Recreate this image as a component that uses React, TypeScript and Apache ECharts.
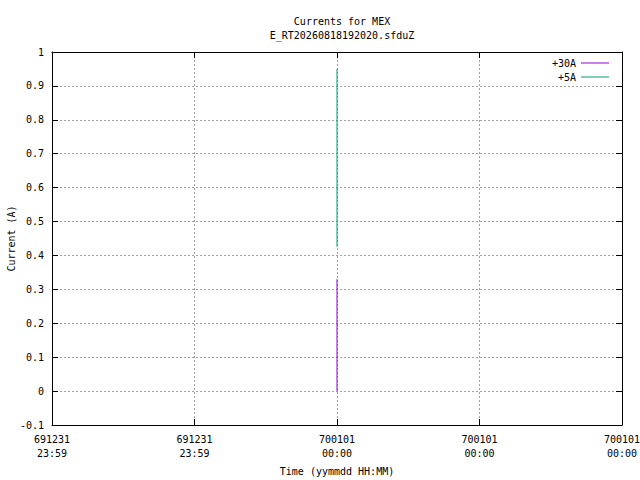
import { useEffect, useRef } from 'react';
import * as echarts from 'echarts';

// chart values
const seriesNames = ['+30A', '+5A'];
const seriesColors = ['#9400d3', '#009e73'];
// both currents sit on the same instant (x = 0, i.e. 700101 00:00)
const current30A: [number, number][] = [[0, 0], [0, 0.33]];
const current5A: [number, number][] = [[0, 0.426], [0, 0.95]];
const xTickLabels = ['691231\n23:59', '691231\n23:59', '700101\n00:00', '700101\n00:00', '700101\n00:00'];
const titleText = 'Currents for MEX\nE_RT20260818192020.sfduZ';

const FONT = 'DejaVu Sans Mono';

export default function App() {
  const chartRef = useRef<HTMLDivElement>(null);

  useEffect(() => {
    if (!chartRef.current) return;
    const chart = echarts.init(chartRef.current, null, { renderer: 'svg' });

    const gridLine = { show: true, lineStyle: { color: '#a0a0a0', type: [2, 2] as number[], width: 1 } };
    const axisLine = { show: true, onZero: false, lineStyle: { color: '#000', width: 1 } };
    const tick = { show: true, inside: true, length: 6, lineStyle: { color: '#000' } };

    chart.setOption({
      animation: false,
      backgroundColor: '#fff',
      textStyle: { fontFamily: FONT },
      title: {
        text: titleText,
        left: 337,
        textAlign: 'center',
        top: 9,
        textStyle: { fontFamily: FONT, fontSize: 10, fontWeight: 'normal', color: '#000', lineHeight: 14 }
      },
      legend: {
        orient: 'vertical',
        right: 26,
        top: 52,
        align: 'right',
        itemGap: 2,
        itemWidth: 28,
        itemHeight: 1,
        icon: 'rect',
        data: seriesNames,
        textStyle: { fontFamily: FONT, fontSize: 10, color: '#000', lineHeight: 12 }
      },
      grid: { left: 52, right: 18, top: 52, bottom: 55, containLabel: false, outerBoundsMode: 'none' },
      xAxis: [
        {
          type: 'value',
          min: -2,
          max: 2,
          interval: 1,
          name: 'Time (yymmdd HH:MM)',
          nameLocation: 'middle',
          nameGap: 41,
          nameMoveOverlap: false,
          nameTextStyle: { fontFamily: FONT, fontSize: 10, color: '#000' },
          axisLine,
          axisTick: tick,
          splitLine: gridLine,
          axisLabel: {
            margin: 7,
            fontFamily: FONT,
            fontSize: 10,
            color: '#000',
            lineHeight: 14,
            formatter: (v: number) => xTickLabels[Math.round(v) + 2] ?? ''
          }
        },
        {
          type: 'value',
          position: 'top',
          min: -2,
          max: 2,
          interval: 1,
          axisLine,
          axisTick: tick,
          axisLabel: { show: false },
          splitLine: { show: false }
        }
      ],
      yAxis: [
        {
          type: 'value',
          min: -0.1,
          max: 1,
          interval: 0.1,
          name: 'Current (A)',
          nameLocation: 'middle',
          nameGap: 36,
          nameMoveOverlap: false,
          nameRotate: 90,
          nameTextStyle: { fontFamily: FONT, fontSize: 10, color: '#000' },
          axisLine,
          axisTick: tick,
          splitLine: gridLine,
          axisLabel: {
            margin: 8,
            fontFamily: FONT,
            fontSize: 10,
            color: '#000',
            formatter: (v: number) => String(Math.round(v * 10) / 10)
          }
        },
        {
          type: 'value',
          position: 'right',
          min: -0.1,
          max: 1,
          interval: 0.1,
          axisLine,
          axisTick: tick,
          axisLabel: { show: false },
          splitLine: { show: false }
        }
      ],
      series: [
        {
          name: seriesNames[0],
          type: 'line',
          data: current30A,
          symbol: 'none',
          color: seriesColors[0],
          lineStyle: { width: 1, color: seriesColors[0] }
        },
        {
          name: seriesNames[1],
          type: 'line',
          data: current5A,
          symbol: 'none',
          color: seriesColors[1],
          lineStyle: { width: 1, color: seriesColors[1] }
        }
      ]
    });

    return () => {
      chart.dispose();
    };
  }, []);

  return (
    <div
      ref={chartRef}
      style={{ position: 'absolute', left: 0, top: 0, width: 640, height: 480 }}
    />
  );
}
